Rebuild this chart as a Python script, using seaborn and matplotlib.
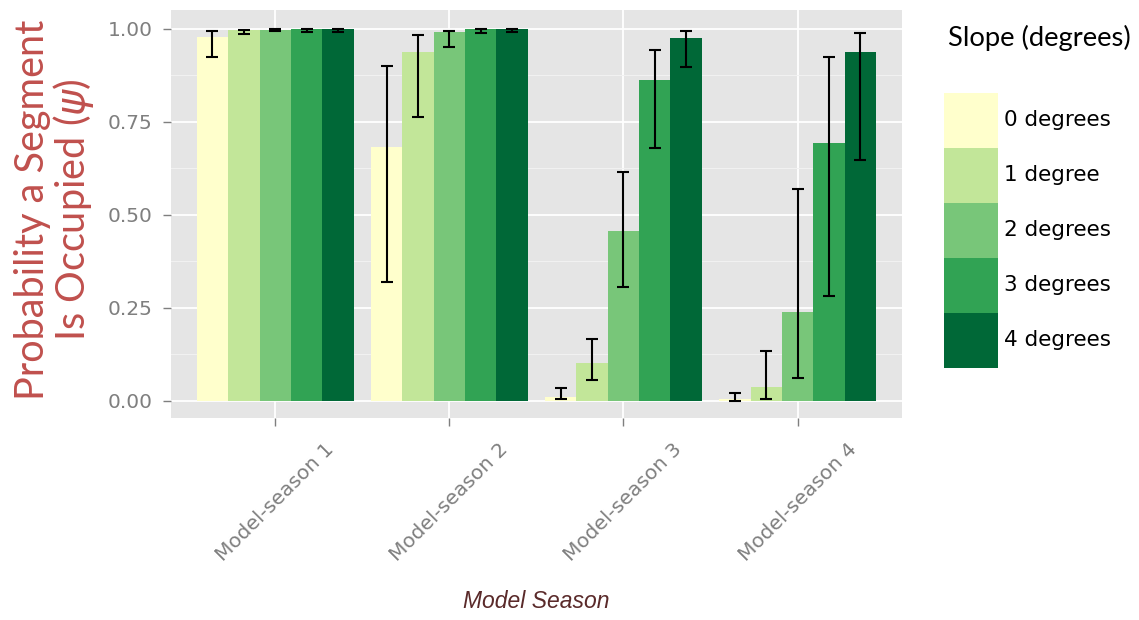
import numpy as np
import pandas as pd
import matplotlib
matplotlib.use("Agg")
import matplotlib.pyplot as plt
from matplotlib.patches import Patch
from matplotlib.ticker import MultipleLocator
import seaborn as sns

# Occupancy estimates (psi) per slope class across the four model seasons
seasons = ["Model-season 1", "Model-season 2", "Model-season 3", "Model-season 4"]
slopes = ["0 degrees", "1 degree", "2 degrees", "3 degrees", "4 degrees"]

psi_0deg = [0.978, 0.682, 0.010, 0.003]
psi_1deg = [0.995, 0.938, 0.102, 0.037]
psi_2deg = [0.997, 0.990, 0.456, 0.239]
psi_3deg = [0.999, 0.998, 0.862, 0.693]
psi_4deg = [0.999, 0.999, 0.976, 0.938]

# 95% confidence limits
lower_0deg = [0.923, 0.319, 0.004, 0.000]
upper_0deg = [0.994, 0.899, 0.035, 0.020]
lower_1deg = [0.985, 0.763, 0.055, 0.004]
upper_1deg = [0.997, 0.982, 0.165, 0.134]
lower_2deg = [0.993, 0.951, 0.306, 0.061]
upper_2deg = [0.998, 0.994, 0.615, 0.569]
lower_3deg = [0.990, 0.987, 0.678, 0.281]
upper_3deg = [1.000, 0.999, 0.942, 0.924]
lower_4deg = [0.990, 0.990, 0.897, 0.646]
upper_4deg = [1.000, 1.000, 0.994, 0.987]

palette = ["#FFFFCC", "#C2E699", "#78C679", "#31A354", "#006837"]

psi = [psi_0deg, psi_1deg, psi_2deg, psi_3deg, psi_4deg]
lower = [lower_0deg, lower_1deg, lower_2deg, lower_3deg, lower_4deg]
upper = [upper_0deg, upper_1deg, upper_2deg, upper_3deg, upper_4deg]

df = pd.DataFrame({
    "season": [s for _ in slopes for s in seasons],
    "slope": [sl for sl in slopes for _ in seasons],
    "psi": [v for row in psi for v in row],
})

W, H = 1139, 620
fig = plt.figure(figsize=(W / 100, H / 100), dpi=100)
left, right, top, bottom = 170.7, 902, 10, 418
ax = fig.add_axes([left / W, 1 - bottom / H, (right - left) / W, (bottom - top) / H])

sns.barplot(data=df, x="season", y="psi", hue="slope", order=seasons,
            hue_order=slopes, palette=palette, saturation=1, width=0.9,
            gap=0, linewidth=0, errorbar=None, ax=ax, zorder=2)
ax.get_legend().remove()

# confidence intervals at each bar's centre
for cont, mid, lo, hi in zip(ax.containers, psi, lower, upper):
    xs = [b.get_x() + b.get_width() / 2 for b in cont]
    mid = np.array(mid)
    yerr = [mid - np.array(lo), np.array(hi) - mid]
    ax.errorbar(xs, mid, yerr=yerr, fmt="none", ecolor="black",
                elinewidth=1.5, capsize=4, capthick=1.5, zorder=3)

# panel styling
ax.set_facecolor("#E5E5E5")
for s in ax.spines.values():
    s.set_visible(False)
ax.set_xlim(-0.6, 3.6)
ax.set_ylim(-0.047, 1.05)
ax.yaxis.set_major_locator(MultipleLocator(0.25))
ax.yaxis.set_minor_locator(MultipleLocator(0.125))
ax.grid(which="major", color="white", linewidth=1.3, zorder=0)
ax.grid(which="minor", axis="y", color="#F2F2F2", linewidth=0.7, zorder=0)
ax.set_axisbelow(True)
ax.tick_params(which="minor", left=False)
ax.tick_params(axis="both", which="major", color="#7F7F7F", length=5.5,
               width=1, labelcolor="#7F7F7F")
ax.tick_params(axis="y", pad=7.5)
ax.tick_params(axis="x", pad=10)
ax.set_yticks([0, 0.25, 0.5, 0.75, 1.0])
ax.set_yticklabels(["0.00", "0.25", "0.50", "0.75", "1.00"],
                   fontsize=14.5, family="DejaVu Sans")
ax.set_xticks(range(len(seasons)))
ax.set_xticklabels(seasons, rotation=45, ha="center", va="top",
                   fontsize=14.5, family="DejaVu Sans")
ax.set_xlabel("")
ax.set_ylabel("")

fig.text(536 / W, 1 - 602 / H, "Model Season", ha="center", va="center",
         fontsize=16.5, style="italic", family="Liberation Sans", color="#5A2A2A")

fig.text(55 / W, 1 - 210 / H, "Probability a Segment\nIs Occupied ($\\psi$)",
         rotation=90, ha="center", va="center", multialignment="center",
         linespacing=1.0, fontsize=28.5, family="Lato", color="#C0504D")

# legend
fig.text(948 / W, 1 - 38 / H, "Slope (degrees)", ha="left", va="center",
         fontsize=19.7, family="Lato", color="black")
fs_pt = 15.5
fs_px = fs_pt * 100 / 72
key_h = (55 / fs_px - 0.245) / 0.65
handles = [Patch(facecolor=c, edgecolor="none", linewidth=0) for c in palette]
fig.legend(handles, slopes, loc="upper left",
           bbox_to_anchor=(944 / W, 1 - 93 / H), bbox_transform=fig.transFigure,
           frameon=False, borderpad=0, borderaxespad=0, labelspacing=0,
           handlelength=54 / fs_px, handleheight=key_h,
           handletextpad=6 / fs_px,
           prop={"family": "DejaVu Sans", "size": fs_pt})

fig.savefig("out.png", dpi=100)
